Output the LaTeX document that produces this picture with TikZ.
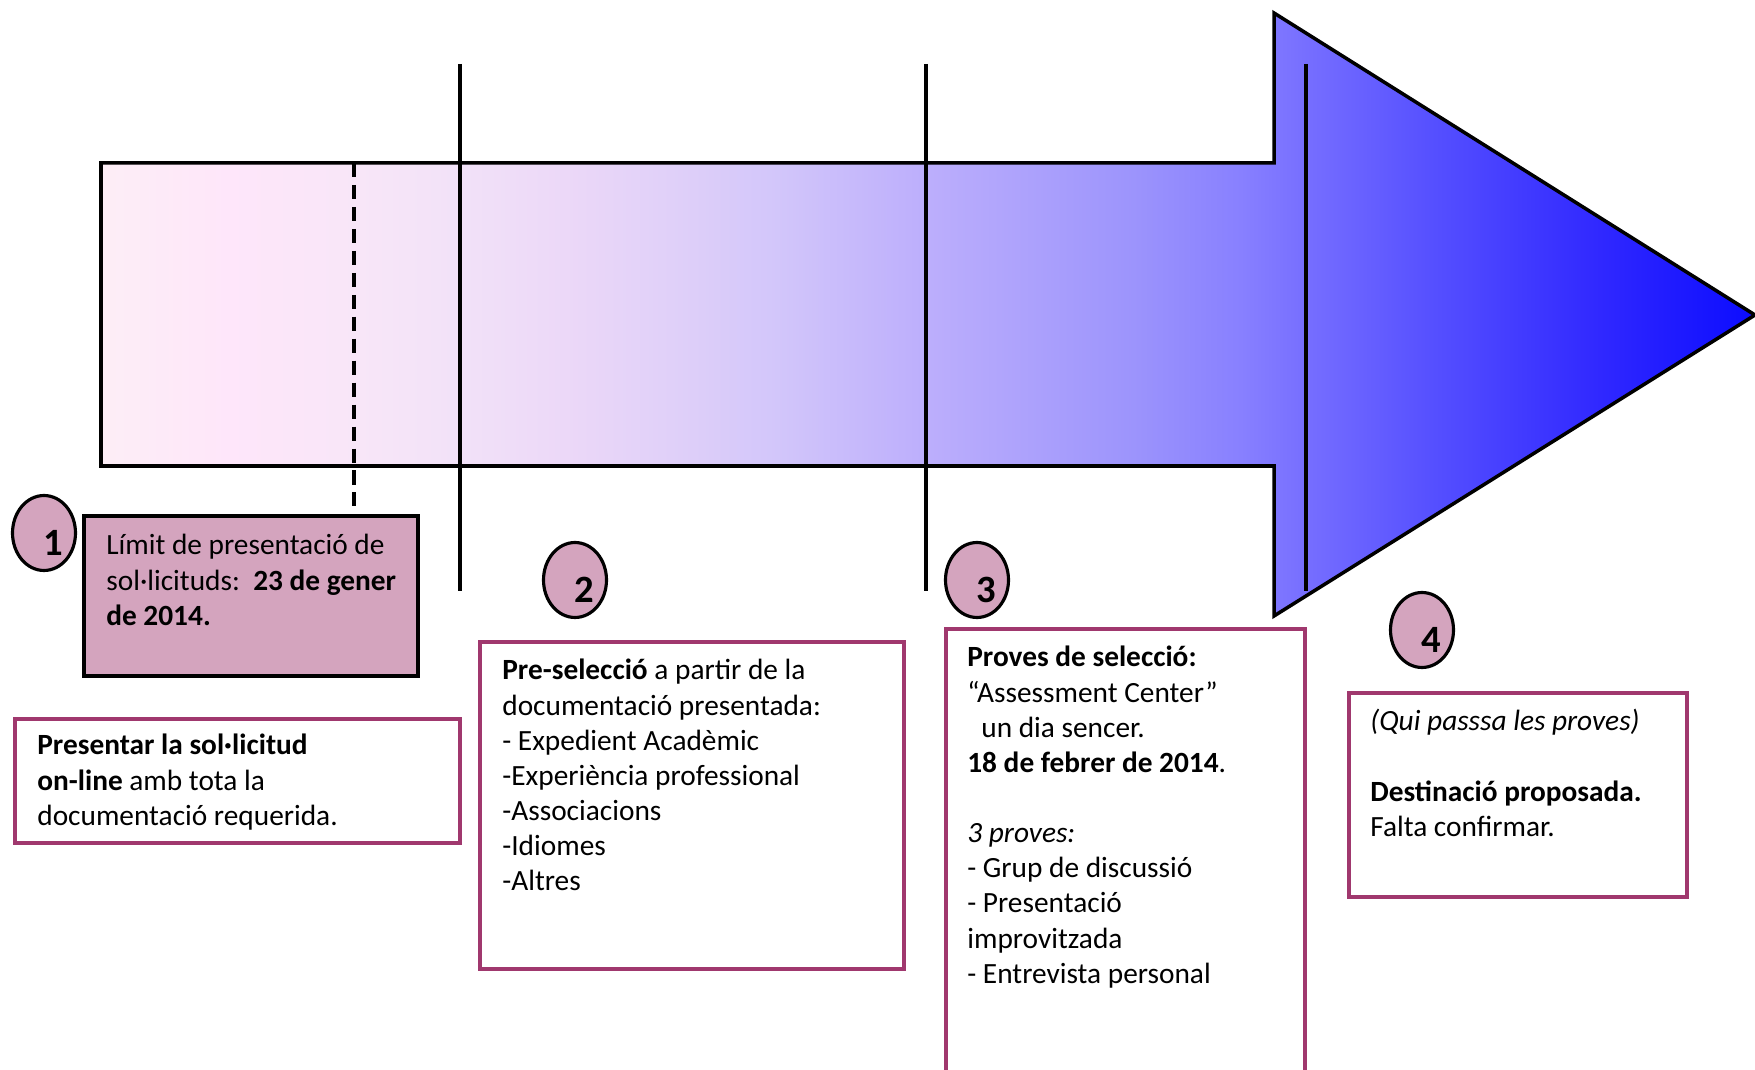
\documentclass[tikz,border=0pt]{standalone}
\usepackage{fontspec}
\setmainfont{Carlito}
\usetikzlibrary{shapes.geometric}

\definecolor{stagepink}{RGB}{212,164,190}
\definecolor{stageline}{RGB}{160,56,110}

\pgfdeclarehorizontalshading{arrowshade}{100bp}{%
  rgb(0bp)=(.992,.933,.965); rgb(25bp)=(.992,.933,.965);
  rgb(28.85bp)=(.996,.902,.980); rgb(32.7bp)=(.973,.902,.973);
  rgb(35.7bp)=(.949,.886,.973); rgb(39.05bp)=(.925,.847,.973);
  rgb(42.25bp)=(.878,.816,.976); rgb(45.45bp)=(.824,.776,.980);
  rgb(49.6bp)=(.745,.690,.988); rgb(56.2bp)=(.612,.580,.988);
  rgb(59.45bp)=(.533,.502,1); rgb(61.45bp)=(.463,.431,1);
  rgb(65.2bp)=(.337,.314,1); rgb(70.3bp)=(.188,.157,1);
  rgb(75bp)=(.047,.047,1); rgb(100bp)=(.047,.047,1)}

\tikzset{
  txt/.style={anchor=base west, inner sep=0pt, font=\fontsize{16.7}{20}\selectfont},
  stagebox/.style={draw=stageline, line width=2.3pt},
  numball/.style={ellipse, draw=black, line width=1.8pt, fill=stagepink,
    minimum width=1.26cm, minimum height=1.5cm, inner sep=0pt},
  numtxt/.style={inner sep=0pt, font=\fontsize{22}{26}\selectfont\bfseries},
  mark line/.style={line width=2pt}
}

\begin{document}
\begin{tikzpicture}[x=0.02cm, y=-0.02cm]
  \useasboundingbox (0,0) rectangle (1755,1070);

  % the big arrow
  \draw[shading=arrowshade, line width=2pt, line join=miter]
    (101,163) -- (1274,163) -- (1274,13) -- (1755,315) -- (1274,616)
    -- (1274,466) -- (101,466) -- cycle;

  % stage limits
  \draw[line width=1.8pt, dash pattern=on 8pt off 4.5pt] (354,163) -- (354,516);
  \draw[mark line] (460,64) -- (460,591);
  \draw[mark line] (926,64) -- (926,591);
  \draw[mark line] (1306,64) -- (1306,591);

  % stage 1
  \draw[line width=2pt, fill=stagepink] (84,516) rectangle (418,676);
  \node[txt] (limit) at (106,555) {\parbox[t]{10cm}{L\'imit de presentaci\'o de\\
    sol·licituds:\ \ \textbf{23 de gener}\\ \textbf{de 2014.}}};
  \node[numball] (n1) at (44,533) {};
  \node[numtxt] at ([shift={(9,10)}]n1.center) {1};

  \draw[stagebox] (15,719) rectangle (460,843);
  \node[txt] (present) at (37,755) {\parbox[t]{10cm}{\textbf{Presentar la sol·licitud}\\
    \textbf{on-line} amb tota la\\ documentaci\'o requerida.}};

  % stage 2
  \node[numball] (n2) at (575,580) {};
  \node[numtxt] at ([shift={(9,10)}]n2.center) {2};
  \draw[stagebox] (480,642) rectangle (904,969);
  \node[txt] (presel) at (502,680) {\parbox[t]{10cm}{\textbf{Pre-selecci\'o} a partir de la\\
    documentaci\'o presentada:\\ - Expedient Acad\`emic\\ -Experi\`encia professional\\
    -Associacions\\ -Idiomes\\ -Altres}};

  % stage 3
  \node[numball] (n3) at (977,580) {};
  \node[numtxt] at ([shift={(9,10)}]n3.center) {3};
  \draw[stagebox] (946,629) rectangle (1305,1090);
  \node[txt] (proves) at (967,667) {\parbox[t]{10cm}{\textbf{Proves de selecci\'o:}\\
    “Assessment Center”\\ \hspace*{0.28cm}un dia sencer.\\
    \textbf{18 de febrer de 2014}.\\[20pt]
    \textit{3 proves:}\\ - Grup de discussi\'o\\ - Presentaci\'o\\ improvitzada\\
    - Entrevista personal}};

  % stage 4
  \node[numball] (n4) at (1422,630) {};
  \node[numtxt] at ([shift={(9,10)}]n4.center) {4};
  \draw[stagebox] (1349,693) rectangle (1687,897);
  \node[txt] (desti) at (1370,731) {\parbox[t]{10cm}{\textit{(Qui passsa les proves)}\\[20pt]
    \textbf{Destinaci\'o proposada.}\\ Falta confirmar.}};

\end{tikzpicture}
\end{document}
